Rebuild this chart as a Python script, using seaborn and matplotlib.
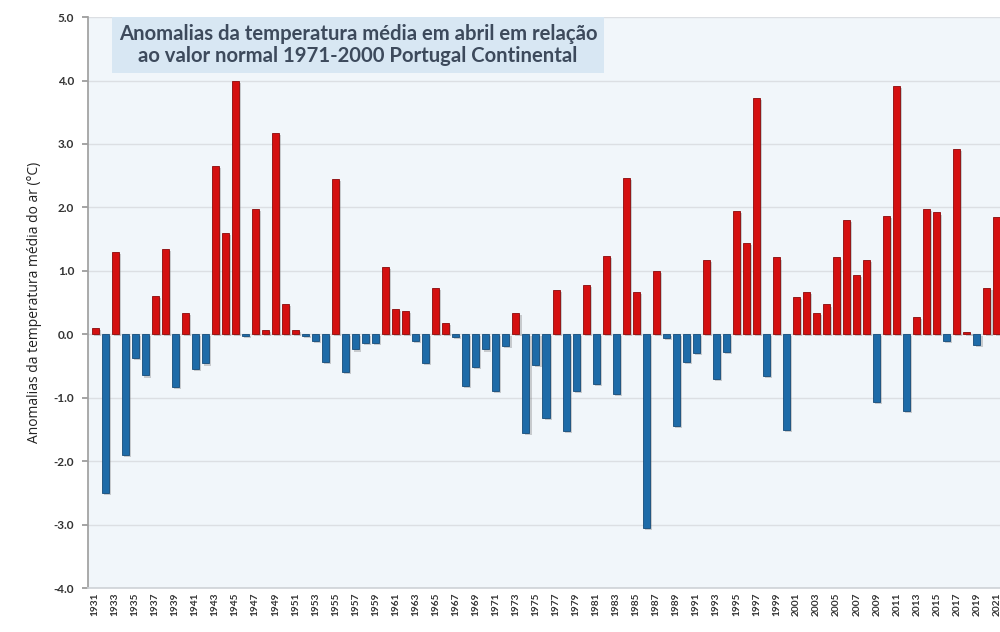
import numpy as np
import pandas as pd
import seaborn as sns
import matplotlib.pyplot as plt
import matplotlib.patheffects as pe

# April mean temperature anomalies (°C) vs 1971-2000 normal
years = list(range(1931, 2022))
anomaly = [
    0.10, -2.50, 1.30, -1.90, -0.38, -0.65, 0.61, 1.35, -0.83, 0.34,   # 1931-1940
    -0.54, -0.46, 2.65, 1.60, 4.00, -0.03, 1.98, 0.07, 3.17, 0.48,     # 1941-1950
    0.07, -0.03, -0.10, -0.44, 2.45, -0.60, -0.24, -0.13, -0.13, 1.06, # 1951-1960
    0.40, 0.37, -0.10, -0.45, 0.73, 0.18, -0.04, -0.82, -0.51, -0.24,  # 1961-1970
    -0.89, -0.18, 0.34, -1.55, -0.49, -1.32, 0.70, -1.53, -0.89, 0.78, # 1971-1980
    -0.78, 1.23, -0.94, 2.46, 0.67, -3.05, 1.00, -0.06, -1.44, -0.43,  # 1981-1990
    -0.29, 1.17, -0.71, -0.28, 1.95, 1.44, 3.72, -0.66, 1.21, -1.51,   # 1991-2000
    0.59, 0.66, 0.34, 0.47, 1.21, 1.80, 0.93, 1.17, -1.07, 1.86,       # 2001-2010
    3.92, -1.21, 0.27, 1.98, 1.92, -0.11, 2.92, 0.04, -0.17, 0.73,     # 2011-2020
    1.85,                                                              # 2021
]
y_ticks = [-4, -3, -2, -1, 0, 1, 2, 3, 4, 5]
title = ("Anomalias da temperatura média em abril em relação\n"
         "ao valor normal 1971-2000 Portugal Continental")
y_label = "Anomalias da temperatura média do ar (°C)"

df = pd.DataFrame({"ano": [str(y) for y in years], "anomalia": anomaly})
df["sinal"] = np.where(df["anomalia"] >= 0, "pos", "neg")

sns.set_theme(style="white")
plt.rcParams["font.family"] = ["Lato", "DejaVu Sans"]

fig = plt.figure(figsize=(10, 6.32), dpi=100)
ax = fig.add_axes([0.088, 0.0696, 0.912, 0.9034])
ax.set_facecolor("#f1f6fa")

sns.barplot(data=df, x="ano", y="anomalia", hue="sinal",
            palette={"pos": "#d41010", "neg": "#1e6ba8"}, saturation=1,
            dodge=False, width=0.7, legend=False, ax=ax, zorder=3)

# darker outline + small drop shadow like the original
for bar in ax.patches:
    fc = bar.get_facecolor()
    edge = "#8a0909" if fc[0] > 0.5 else "#154b78"
    bar.set_edgecolor(edge)
    bar.set_linewidth(0.6)
    bar.set_path_effects([pe.SimplePatchShadow(offset=(1.5, -1.5), shadow_rgbFace="#7a7a7a", alpha=0.35),
                          pe.Normal()])

ax.set_ylim(-4, 5)
ax.set_xlim(-0.7, 90.3)
ax.set_yticks(y_ticks)
ax.set_yticklabels([f"{v:.1f}" for v in y_ticks], fontsize=8.5, fontweight="bold", color="#333333")
ax.set_xticks(range(0, len(years), 2))
ax.set_xticklabels([str(y) for y in years[::2]], rotation=90, fontsize=7.3,
                   fontweight="bold", color="#333333")
ax.tick_params(axis="y", which="both", left=True, length=4, color="#999999", pad=6)
ax.tick_params(axis="x", length=0, pad=3)

ax.grid(axis="y", color="#dcdfe3", linewidth=1.0, zorder=0)
ax.set_axisbelow(True)
for side in ["top", "right"]:
    ax.spines[side].set_visible(False)
ax.spines["left"].set_color("#a0a0a0")
ax.spines["bottom"].set_color("#d0d4d8")

ax.set_xlabel("")
ax.set_ylabel(y_label, fontsize=10, color="#222222", family=["Open Sans", "DejaVu Sans"], labelpad=8)

ax.text(0.296, 0.951, title, transform=ax.transAxes, ha="center", va="center",
        fontsize=14.6, fontweight="bold", color="#3d4a5c", linespacing=1.12, zorder=5,
        bbox=dict(boxstyle="square,pad=0.35", facecolor="#d8e7f3", edgecolor="none"))

fig.savefig("out.png", dpi=100)
